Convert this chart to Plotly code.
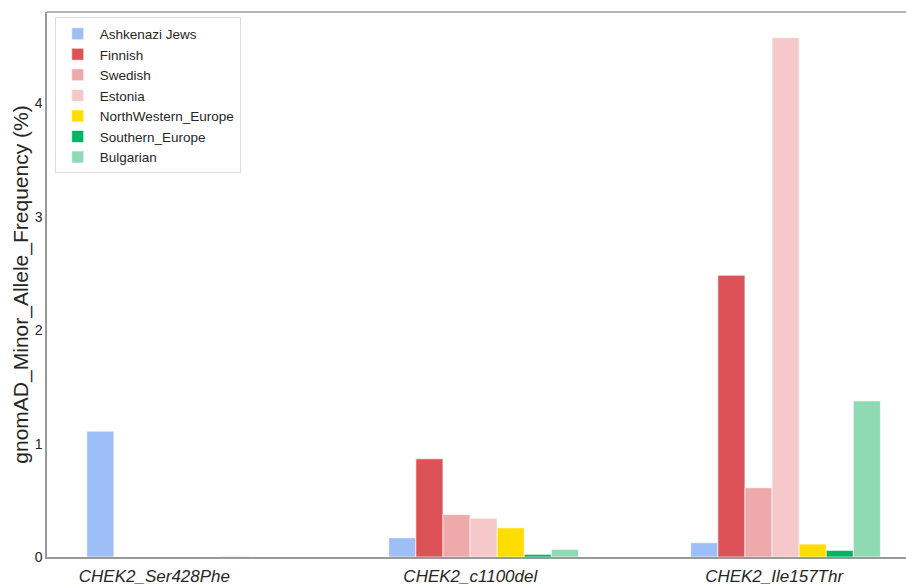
import plotly.graph_objects as go

# Variants and population allele frequencies (%)
variants = ["CHEK2_Ser428Phe", "CHEK2_c1100del", "CHEK2_Ile157Thr"]
populations = ["Ashkenazi Jews", "Finnish", "Swedish", "Estonia",
               "NorthWestern_Europe", "Southern_Europe", "Bulgarian"]

ashkenazi = [1.11, 0.169, 0.126]
finnish = [0.0, 0.866, 2.485]
swedish = [0.0, 0.374, 0.611]
estonia = [0.0, 0.342, 4.58]
northwestern = [0.0, 0.257, 0.114]
southern = [0.004, 0.023, 0.058]
bulgarian = [0.0, 0.067, 1.377]

series = [ashkenazi, finnish, swedish, estonia, northwestern, southern, bulgarian]
colors = ["#9dbef7", "#dd5257", "#eeaaab", "#f5c8c9", "#ffdd00", "#00b462", "#8ddab3"]

# label placement relative to each group centre
label_shift = [-0.09, -0.044, -0.038]

x_pos = list(range(len(variants)))

fig = go.Figure()
for name, vals, col in zip(populations, series, colors):
    fig.add_trace(go.Bar(
        x=x_pos, y=vals, name=name,
        marker=dict(color=col, line=dict(color="rgba(255,255,255,0.8)", width=0.8)),
    ))

fig.update_layout(
    width=906, height=586,
    margin=dict(l=47, r=0, t=12, b=26),
    paper_bgcolor="white", plot_bgcolor="white",
    barmode="group", bargap=0.372, bargroupgap=0,
    font=dict(family="Liberation Sans, Arial, sans-serif", color="#262626"),
    showlegend=True,
    legend=dict(
        x=0.009, y=0.99, xanchor="left", yanchor="top",
        bgcolor="white", bordercolor="#dddddd", borderwidth=1,
        font=dict(size=13.5, color="#262626"),
        tracegroupgap=0, itemwidth=34,
    ),
    shapes=[dict(type="line", xref="paper", yref="paper", x0=0, x1=1, y0=1, y1=1,
                 line=dict(color="#999999", width=1.5))],
)

fig.update_xaxes(
    range=[-0.4457, 2.3987],
    tickmode="array",
    tickvals=[p + s for p, s in zip(x_pos, label_shift)],
    ticktext=variants,
    tickfont=dict(size=17, style="italic", color="#262626"),
    showgrid=False, zeroline=False,
    showline=True, linecolor="#999999", linewidth=1.5,
    ticks="", ticklabelstandoff=3,
)

fig.update_yaxes(
    range=[0, 4.807],
    tickvals=[0, 1, 2, 3, 4],
    tickfont=dict(size=14, color="#262626"),
    title=dict(text="gnomAD_Minor_Allele_Frequency (%)", font=dict(size=21, color="#262626"), standoff=0),
    showgrid=False, zeroline=False,
    showline=True, linecolor="#999999", linewidth=1.5,
    ticks="",
)

fig.write_html("out.html")
